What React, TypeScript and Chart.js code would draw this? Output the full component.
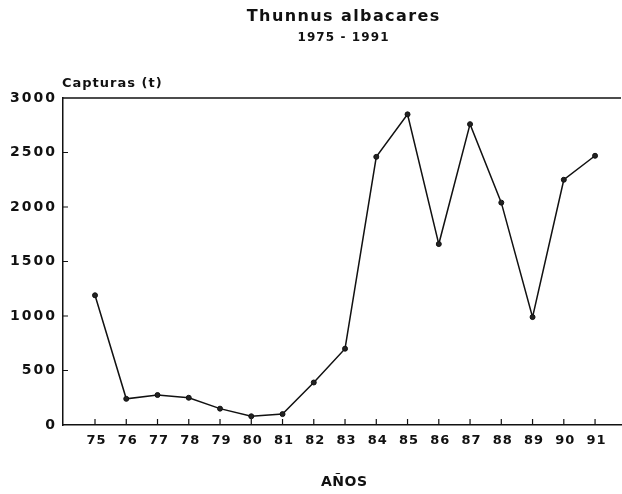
import React, { useEffect, useRef } from "react";
import { Chart, registerables } from "chart.js";

Chart.register(...registerables);

const years = ["75", "76", "77", "78", "79", "80", "81", "82", "83", "84", "85", "86", "87", "88", "89", "90", "91"];
const catches = [1190, 240, 275, 250, 150, 80, 100, 390, 700, 2460, 2850, 1660, 2760, 2040, 990, 2250, 2470];
const yTicks = [0, 500, 1000, 1500, 2000, 2500, 3000];

const mainTitle = "Thunnus albacares";
const subTitle = "1975 - 1991";
const yTitle = "Capturas (t)";
const xTitle = "AÑOS";

const FONT = "'DejaVu Sans', 'Liberation Sans', Arial, sans-serif";

export default function App() {
  const ref = useRef<HTMLCanvasElement | null>(null);
  useEffect(() => {
    if (!ref.current) return;
    const textPlugin = {
      id: "texts",
      afterDraw(chart: any) {
        const { ctx, chartArea, scales } = chart;
        const x = scales.x, y = scales.y;
        ctx.save();
        ctx.fillStyle = "#111";
        ctx.textBaseline = "middle";
        const put = (t: string, px: number, py: number, size: number, ls: number, align: string) => {
          ctx.font = `bold ${size}px ${FONT}`;
          (ctx as any).letterSpacing = `${ls}px`;
          const w = ctx.measureText(t).width - ls;
          let left = px;
          if (align === "center") left = px - w / 2;
          else if (align === "right") left = px - w;
          ctx.textAlign = "left";
          ctx.fillText(t, left, py);
        };
        put(mainTitle, 343, 17, 16, 1.4, "center");
        put(subTitle, 343, 38, 12, 1.1, "center");
        put(yTitle, 62, 84, 13, 1, "left");
        put(xTitle, 344, 482, 14, 0.5, "center");
        yTicks.forEach((v) => put(String(v), 55, y.getPixelForValue(v), 14, 2, "right"));
        years.forEach((v) => put(v, x.getPixelForValue(Number(v)) + 1, 441, 13, 1, "center"));
        (ctx as any).letterSpacing = "0px";
        // top border
        ctx.strokeStyle = "#111";
        ctx.lineWidth = 1.5;
        ctx.beginPath();
        ctx.moveTo(chartArea.left, chartArea.top);
        ctx.lineTo(chartArea.right, chartArea.top);
        ctx.stroke();
        // inward ticks
        ctx.lineWidth = 1.2;
        ctx.beginPath();
        years.forEach((v) => {
          const px = x.getPixelForValue(Number(v));
          ctx.moveTo(px, chartArea.bottom);
          ctx.lineTo(px, chartArea.bottom - 6);
        });
        yTicks.forEach((v) => {
          if (v === 0 || v === 3000) return;
          const py = y.getPixelForValue(v);
          ctx.moveTo(chartArea.left, py);
          ctx.lineTo(chartArea.left + 5, py);
        });
        ctx.stroke();
        ctx.restore();
      },
    };
    const chart = new Chart(ref.current, {
      type: "line",
      data: {
        datasets: [
          {
            data: years.map((yr, i) => ({ x: Number(yr), y: catches[i] })),
            borderColor: "#111",
            borderWidth: 1.5,
            pointRadius: 2.5,
            pointBackgroundColor: "#222",
            pointBorderColor: "#111",
            pointBorderWidth: 1,
            tension: 0,
          },
        ],
      },
      options: {
        animation: false,
        responsive: false,
        maintainAspectRatio: false,
        layout: { autoPadding: false, padding: { top: 98, right: 1, left: 0, bottom: 0 } },
        plugins: { legend: { display: false }, title: { display: false }, tooltip: { enabled: false } },
        scales: {
          x: {
            type: "linear",
            min: 73.976,
            max: 91.83,
            afterFit(scale: any) {
              scale.height = 69;
              scale.paddingRight = 0;
              scale.paddingLeft = 0;
            },
            afterBuildTicks(scale: any) {
              scale.ticks = years.map((v) => ({ value: Number(v) }));
            },
            ticks: { display: false },
            grid: { display: false, drawTicks: false },
            border: { display: true, color: "#111", width: 1.5 },
          },
          y: {
            min: 0,
            max: 3000,
            afterFit(scale: any) {
              scale.width = 63;
              scale.paddingTop = 0;
              scale.paddingBottom = 0;
            },
            afterBuildTicks(scale: any) {
              scale.ticks = yTicks.map((v) => ({ value: v }));
            },
            ticks: { display: false },
            grid: { display: false, drawTicks: false },
            border: { display: true, color: "#111", width: 1.5 },
          },
        },
      },
      plugins: [textPlugin],
    } as any);
    return () => chart.destroy();
  }, []);
  return (
    <div style={{ position: "fixed", left: 0, top: 0, width: 622, height: 494, background: "#fff" }}>
      <canvas ref={ref} width={622} height={494} style={{ width: 622, height: 494 }} />
    </div>
  );
}
